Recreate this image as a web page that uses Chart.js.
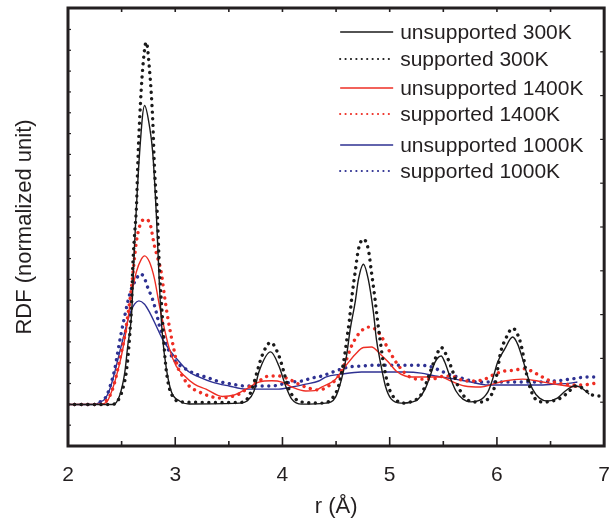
<!DOCTYPE html>
<html lang="en">
<head>
<meta charset="UTF-8">
<title>RDF</title>
<script src="https://cdn.jsdelivr.net/npm/chart.js"></script>
<style>
  html, body { margin: 0; padding: 0; background: #fff; }
</style>
</head>
<body>
<canvas id="rdfChart" width="610" height="518"></canvas>
<script>
// r (Å) and RDF values, one pair of arrays per curve
const rU300 = [2.0, 2.42, 2.48, 2.53, 2.557, 2.594, 2.62, 2.668, 2.714, 2.76, 2.79, 2.826, 2.853, 2.881, 2.918, 2.965, 3.04, 3.13, 3.6, 3.67, 3.735, 3.78, 3.89, 3.967, 4.03, 4.087, 4.18, 4.40, 4.495, 4.551, 4.597, 4.632, 4.678, 4.709, 4.755, 4.80, 4.848, 4.876, 4.913, 4.96, 5.015, 5.108, 5.2, 5.265, 5.33, 5.377, 5.423, 5.48, 5.513, 5.57, 5.618, 5.683, 5.757, 5.915, 5.96, 6.007, 6.072, 6.147, 6.193, 6.24, 6.286, 6.332, 6.397, 6.471, 6.564, 6.638, 6.722, 6.777, 6.86];
const yU300 = [1.99, 1.99, 2.40, 3.55, 4.80, 6.43, 9.59, 14.10, 16.35, 15.35, 14.10, 10.89, 7.67, 5.28, 3.69, 2.59, 2.16, 2.02, 2.06, 2.16, 2.64, 3.55, 4.52, 3.84, 2.88, 2.25, 2.01, 2.06, 2.35, 3.21, 4.32, 5.61, 6.91, 8.01, 8.73, 8.01, 6.43, 5.13, 4.03, 2.88, 2.25, 2.06, 2.1, 2.25, 2.73, 3.36, 4.03, 4.32, 4.03, 3.21, 2.64, 2.25, 2.12, 2.59, 3.21, 4.03, 4.65, 5.23, 4.89, 4.17, 3.36, 2.73, 2.30, 2.16, 2.30, 2.64, 2.88, 2.83, 2.49];

const rS300 = [2.0, 2.40, 2.455, 2.51, 2.547, 2.575, 2.594, 2.603, 2.62, 2.64, 2.649, 2.668, 2.696, 2.73, 2.76, 2.79, 2.807, 2.835, 2.853, 2.881, 2.90, 2.928, 2.974, 3.067, 3.6, 3.67, 3.716, 3.763, 3.809, 3.89, 3.967, 4.013, 4.06, 4.124, 4.18, 4.365, 4.458, 4.523, 4.57, 4.597, 4.625, 4.648, 4.678, 4.709, 4.755, 4.80, 4.83, 4.86, 4.885, 4.913, 4.94, 4.987, 5.052, 5.145, 5.19, 5.284, 5.33, 5.377, 5.423, 5.48, 5.544, 5.59, 5.636, 5.70, 5.775, 5.85, 5.915, 5.98, 6.007, 6.035, 6.08, 6.147, 6.21, 6.24, 6.267, 6.304, 6.36, 6.443, 6.517, 6.61, 6.675, 6.73, 6.815, 6.87, 6.963, 7.0];
const yS300 = [1.99, 1.99, 2.11, 2.73, 3.69, 5.28, 6.91, 8.49, 10.07, 11.70, 13.29, 15.68, 18.08, 19.39, 18.08, 15.68, 13.29, 10.89, 8.49, 6.09, 4.51, 3.21, 2.40, 2.11, 2.09, 2.25, 2.73, 3.55, 4.33, 4.97, 4.33, 3.55, 2.73, 2.25, 2.11, 2.06, 2.25, 2.88, 4.03, 4.99, 6.09, 7.19, 8.35, 9.45, 9.93, 9.45, 8.35, 7.19, 6.09, 4.99, 4.03, 2.88, 2.25, 2.06, 2.11, 2.40, 2.88, 3.55, 4.17, 4.73, 4.17, 3.55, 2.88, 2.35, 2.11, 2.11, 2.25, 2.88, 3.69, 4.51, 5.13, 5.65, 5.13, 4.51, 3.69, 2.88, 2.25, 2.11, 2.16, 2.35, 2.64, 2.88, 2.73, 2.49, 2.40, 2.40];

const rU1400 = [2.0, 2.297, 2.36, 2.405, 2.452, 2.498, 2.545, 2.59, 2.637, 2.684, 2.714, 2.76, 2.807, 2.853, 2.90, 2.946, 3.008, 3.085, 3.178, 3.287, 3.44, 3.55, 3.66, 3.78, 3.90, 3.995, 4.087, 4.217, 4.30, 4.365, 4.495, 4.588, 4.68, 4.755, 4.83, 4.913, 4.987, 5.06, 5.145, 5.237, 5.358, 5.48, 5.57, 5.70, 5.85, 5.96, 6.07, 6.24, 6.38, 6.536, 6.657, 6.75];
const yU1400 = [1.99, 2.01, 2.10, 2.59, 3.37, 4.33, 5.61, 7.21, 8.35, 8.97, 9.13, 8.83, 8.01, 6.73, 5.61, 4.65, 3.85, 3.37, 2.97, 2.73, 2.38, 2.45, 2.73, 3.07, 3.13, 3.07, 2.83, 2.64, 2.66, 2.83, 3.21, 3.84, 4.41, 4.73, 4.75, 4.41, 4.03, 3.60, 3.36, 3.31, 3.31, 3.31, 3.12, 2.88, 2.83, 2.97, 3.12, 3.21, 3.12, 2.97, 2.88, 2.83];

const rS1400 = [2.0, 2.297, 2.343, 2.39, 2.436, 2.464, 2.498, 2.529, 2.557, 2.59, 2.637, 2.668, 2.714, 2.76, 2.807, 2.835, 2.869, 2.90, 2.928, 2.962, 2.993, 3.02, 3.067, 3.13, 3.225, 3.317, 3.41, 3.503, 3.596, 3.688, 3.78, 3.874, 3.967, 4.06, 4.152, 4.245, 4.338, 4.43, 4.523, 4.588, 4.644, 4.709, 4.80, 4.866, 4.92, 4.987, 5.052, 5.108, 5.173, 5.265, 5.386, 5.516, 5.61, 5.70, 5.794, 5.887, 5.98, 6.072, 6.165, 6.24, 6.313, 6.406, 6.50, 6.63, 6.75, 6.87, 6.963];
const yS1400 = [1.99, 1.99, 2.11, 2.41, 3.07, 3.69, 4.51, 5.28, 6.24, 7.53, 9.78, 10.55, 10.89, 10.74, 9.59, 9.06, 8.35, 7.19, 6.24, 5.28, 4.51, 3.84, 3.36, 2.88, 2.59, 2.40, 2.30, 2.35, 2.49, 2.83, 3.12, 3.36, 3.36, 3.21, 2.97, 2.78, 2.69, 2.88, 3.36, 4.03, 4.80, 5.37, 5.71, 5.61, 5.28, 4.65, 4.08, 3.69, 3.36, 3.21, 3.21, 3.36, 3.31, 3.12, 3.12, 3.21, 3.45, 3.60, 3.64, 3.71, 3.62, 3.36, 3.12, 2.97, 2.93, 2.97, 3.07];

const rU1000 = [2.0, 2.25, 2.297, 2.343, 2.39, 2.436, 2.482, 2.529, 2.575, 2.62, 2.661, 2.714, 2.76, 2.823, 2.881, 2.962, 3.04, 3.13, 3.225, 3.345, 3.503, 3.66, 3.81, 3.967, 4.087, 4.217, 4.338, 4.403, 4.551, 4.737, 4.96, 5.145, 5.293, 5.423, 5.61, 5.757, 5.915, 6.072, 6.22, 6.38, 6.536, 6.685, 6.75];
const yU1000 = [1.99, 1.99, 2.11, 2.25, 2.73, 3.55, 4.51, 5.47, 6.33, 6.81, 6.97, 6.81, 6.43, 5.76, 5.13, 4.51, 4.03, 3.55, 3.31, 3.07, 2.88, 2.73, 2.73, 2.73, 2.83, 2.97, 3.12, 3.31, 3.45, 3.55, 3.55, 3.55, 3.50, 3.36, 3.21, 3.07, 2.93, 2.93, 2.93, 2.93, 2.97, 3.02, 3.07];

const rS1000 = [2.0, 2.25, 2.297, 2.359, 2.405, 2.436, 2.464, 2.498, 2.529, 2.557, 2.59, 2.637, 2.668, 2.705, 2.742, 2.788, 2.823, 2.853, 2.90, 2.946, 3.008, 3.10, 3.194, 3.287, 3.39, 3.53, 3.66, 3.78, 3.90, 3.995, 4.087, 4.18, 4.273, 4.365, 4.495, 4.616, 4.737, 4.866, 4.987, 5.108, 5.237, 5.358, 5.48, 5.544, 5.636, 5.73, 5.822, 5.915, 6.072, 6.22, 6.38, 6.536, 6.685, 6.84, 6.963];
const yS1000 = [1.99, 1.99, 2.11, 2.40, 3.07, 3.69, 4.51, 5.47, 6.24, 6.91, 7.53, 8.01, 8.25, 8.15, 7.63, 7.05, 6.43, 5.76, 5.13, 4.51, 4.03, 3.69, 3.45, 3.31, 3.12, 2.97, 2.88, 2.88, 2.88, 2.97, 3.07, 3.12, 3.26, 3.36, 3.60, 3.79, 3.84, 3.88, 3.88, 3.88, 3.88, 3.84, 3.60, 3.45, 3.31, 3.17, 3.07, 3.07, 3.07, 3.07, 3.07, 3.12, 3.21, 3.31, 3.31];

const seriesLabels = ['unsupported 300K', 'supported 300K', 'unsupported 1400K', 'supported 1400K', 'unsupported 1000K', 'supported 1000K'];
const xTicks = [2, 3, 4, 5, 6, 7];

const ink = '#231f20';
const black = '#1a1a1a';
const red = '#ee2e24';
const blue = '#2e3192';

const pts = (rs, ys) => rs.map((r, i) => ({ x: r, y: ys[i] }));

function solid(label, rs, ys, color) {
    return {
        label, data: pts(rs, ys), borderColor: color, backgroundColor: color,
        borderWidth: 1.4, pointRadius: 0, cubicInterpolationMode: 'monotone', dotted: false
    };
}
function dotted(label, rs, ys, color) {
    return {
        label, data: pts(rs, ys), borderColor: color, backgroundColor: color,
        borderWidth: 3.4, borderDash: [0.01, 6.6], borderCapStyle: 'round',
        pointRadius: 0, cubicInterpolationMode: 'monotone', dotted: true
    };
}

// frame and inward ticks, Origin style
const frameTicks = {
    id: 'frameTicks',
    afterDraw(chart) {
        const { ctx, chartArea: a, scales } = chart;
        ctx.save();
        ctx.strokeStyle = ink;
        ctx.lineCap = 'butt';
        const seg = (x1, y1, x2, y2) => { ctx.beginPath(); ctx.moveTo(x1, y1); ctx.lineTo(x2, y2); ctx.stroke(); };
        ctx.lineWidth = 1.6;
        scales.x.ticks.forEach(t => {
            const px = scales.x.getPixelForValue(t.value);
            const major = Math.abs(t.value - Math.round(t.value)) < 1e-6;
            seg(px, a.bottom, px, a.bottom - (major ? 9 : 5));
            seg(px, a.top, px, a.top + 4);
        });
        ctx.lineWidth = 1.2;
        scales.y.ticks.forEach(t => {
            if (!Number.isInteger(t.value)) return;
            const py = scales.y.getPixelForValue(t.value);
            seg(a.left, py, a.left + 3, py);
        });
        scales.y2.ticks.forEach(t => {
            const py = scales.y2.getPixelForValue(t.value);
            seg(a.right, py, a.right - 4, py);
        });
        ctx.lineWidth = 3;
        ctx.strokeRect(a.left, a.top, a.right - a.left, a.bottom - a.top);
        ctx.restore();
    }
};

// legend inside the plot, top right
const insideLegend = {
    id: 'insideLegend',
    afterDraw(chart) {
        const { ctx, chartArea: a } = chart;
        const rows = [24, 51, 80, 106, 137, 163];
        ctx.save();
        ctx.font = '21px "Liberation Sans", Arial, sans-serif';
        ctx.textBaseline = 'middle';
        chart.data.datasets.forEach((ds, i) => {
            const y = a.top + rows[i];
            const x0 = a.right - 264, x1 = a.right - 211;
            ctx.strokeStyle = ds.borderColor;
            if (ds.dotted) {
                ctx.lineWidth = 2.2;
                ctx.lineCap = 'round';
                ctx.setLineDash([0.01, 5.4]);
            } else {
                ctx.lineWidth = 1.5;
                ctx.lineCap = 'butt';
                ctx.setLineDash([]);
            }
            ctx.beginPath();
            ctx.moveTo(x0, y);
            ctx.lineTo(x1, y);
            ctx.stroke();
            ctx.setLineDash([]);
            ctx.fillStyle = ink;
            ctx.fillText(ds.label, a.right - 204, y + 1);
        });
        ctx.restore();
    }
};

Chart.defaults.font.family = '"Liberation Sans", Arial, sans-serif';
Chart.defaults.color = ink;

new Chart(document.getElementById('rdfChart'), {
    type: 'line',
    data: {
        datasets: [
            solid(seriesLabels[0], rU300, yU300, black),
            dotted(seriesLabels[1], rS300, yS300, black),
            solid(seriesLabels[2], rU1400, yU1400, red),
            dotted(seriesLabels[3], rS1400, yS1400, red),
            solid(seriesLabels[4], rU1000, yU1000, blue),
            dotted(seriesLabels[5], rS1000, yS1000, blue)
        ]
    },
    options: {
        responsive: false,
        animation: false,
        events: [],
        layout: { autoPadding: false, padding: { top: 8, right: 0, bottom: 0, left: 0 } },
        plugins: { legend: { display: false }, tooltip: { enabled: false } },
        scales: {
            x: {
                type: 'linear', min: 2, max: 7,
                grid: { display: false, drawTicks: true, tickLength: 17 },
                border: { display: false },
                ticks: {
                    stepSize: 0.5, padding: 0, maxRotation: 0, autoSkip: false,
                    font: { size: 21 }, color: ink,
                    callback: v => xTicks.includes(v) ? String(v) : ''
                },
                title: { display: true, text: 'r (Å)', font: { size: 22, lineHeight: 1 }, color: ink, padding: { top: 0, bottom: 0 } },
                afterFit: s => { s.height = 72; }
            },
            y: {
                type: 'linear', position: 'left', min: 0, max: 21.03,
                grid: { display: false, drawTicks: false },
                border: { display: false },
                ticks: { stepSize: 1, display: false },
                title: { display: true, text: 'RDF (normalized unit)', font: { size: 22, lineHeight: 1 }, color: ink, padding: { top: 14, bottom: 0 } },
                afterFit: s => { s.width = 68; }
            },
            y2: {
                type: 'linear', position: 'right', min: 0, max: 10,
                grid: { display: false, drawTicks: false },
                border: { display: false },
                ticks: { stepSize: 1, display: false },
                afterFit: s => { s.width = 5; }
            }
        }
    },
    plugins: [frameTicks, insideLegend]
});
</script>
</body>
</html>
